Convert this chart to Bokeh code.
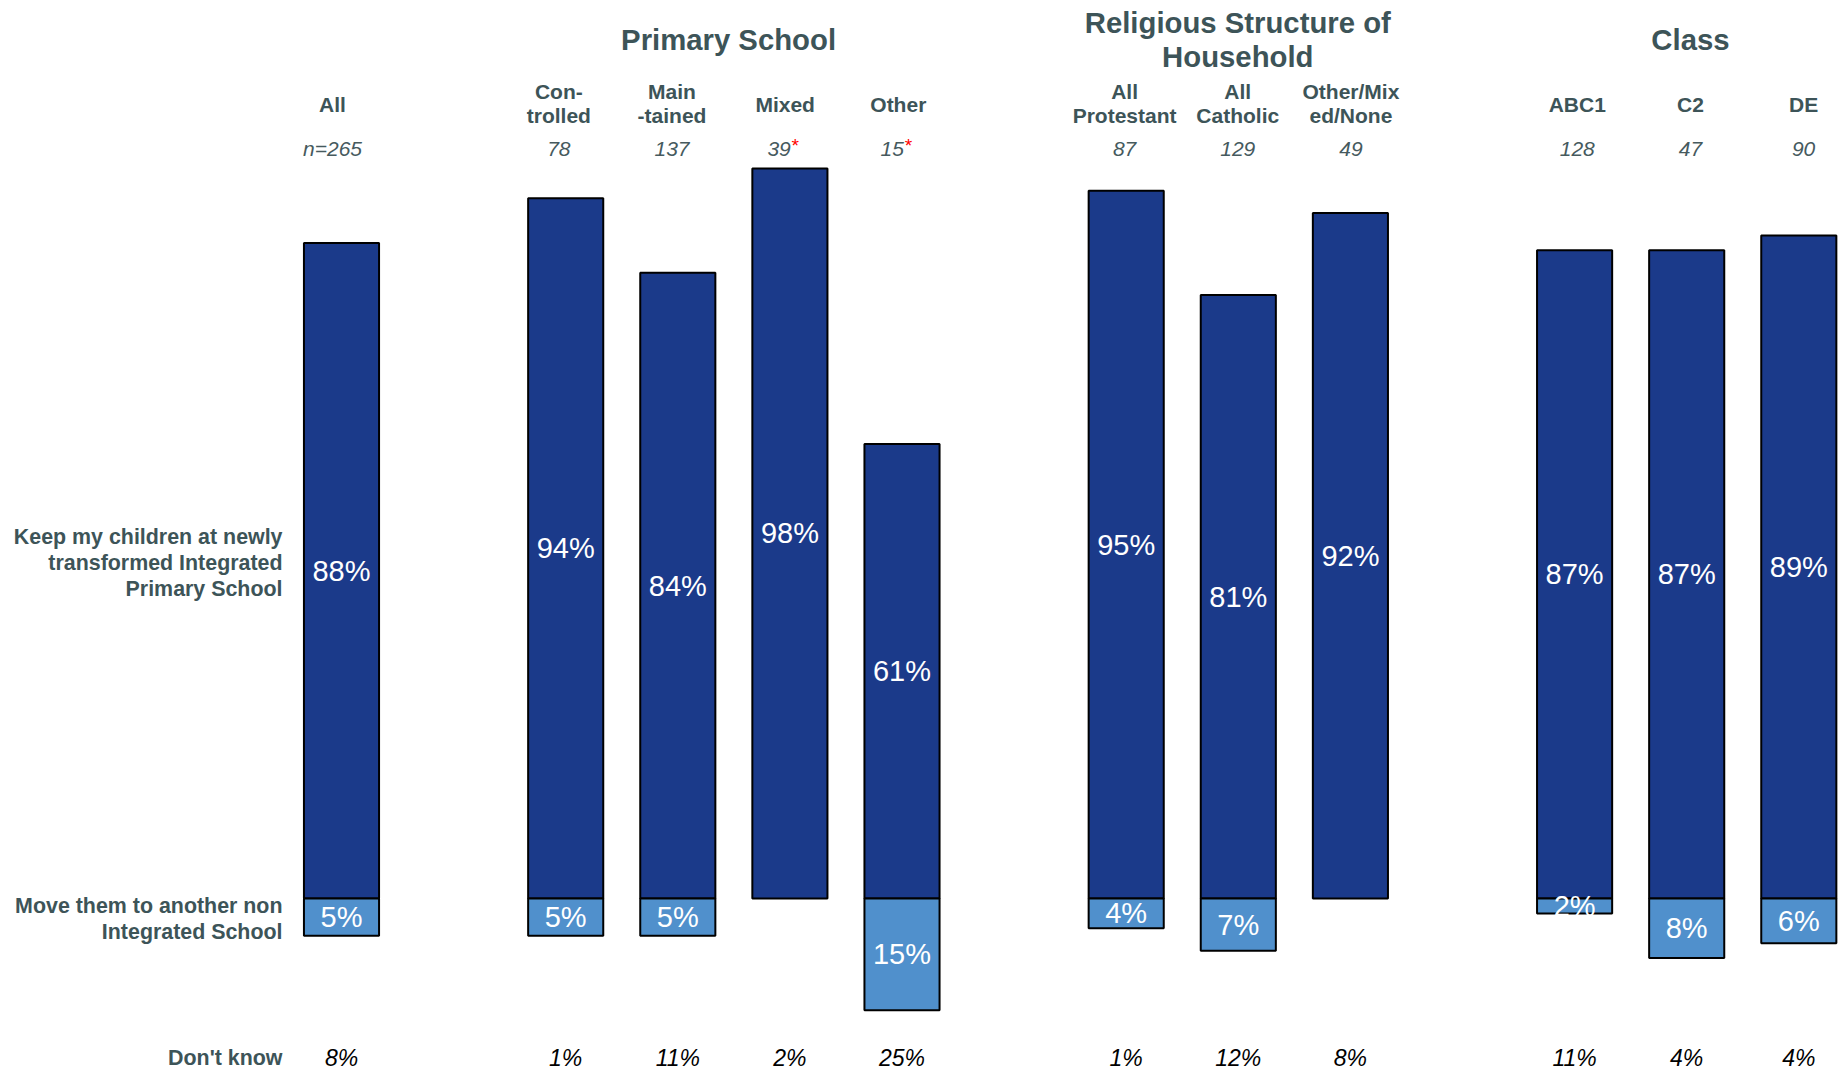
from bokeh.plotting import figure
from bokeh.models import Range1d
from bokeh.core.properties import value
from bokeh.embed import file_html
from bokeh.resources import INLINE

# ---------------- data ----------------
group_titles = ["", "Primary School", "Religious Structure of\nHousehold", "Class"]
group_members = [
    ["All"],
    ["Con-\ntrolled", "Main\n-tained", "Mixed", "Other"],
    ["All\nProtestant", "All\nCatholic", "Other/Mix\ned/None"],
    ["ABC1", "C2", "DE"],
]
base_sizes = ["n=265", "78", "137", "39", "15", "87", "129", "49", "128", "47", "90"]
small_base = [False, False, False, True, True, False, False, False, False, False, False]
keep = [88, 94, 84, 98, 61, 95, 81, 92, 87, 87, 89]
move = [5, 5, 5, 0, 15, 4, 7, 0, 2, 8, 6]
dont_know = [8, 1, 11, 2, 25, 1, 12, 8, 11, 4, 4]
row_keep = ["Keep my children at newly", "transformed Integrated", "Primary School"]
row_move = ["Move them to another non", "Integrated School"]
row_dk = "Don't know"

# ---------------- layout ----------------
W, H = 1845, 1074
PX_X = 112.1          # pixels per category slot
PX_Y = 7.45           # pixels per percentage point
BASE_PX = 898         # baseline, px from top of figure
FIRST_PX = 341        # centre of first bar, px from left of figure

x0 = -FIRST_PX / PX_X
x1 = x0 + W / PX_X
y1 = BASE_PX / PX_Y
y0 = y1 - H / PX_Y

def ypx(px_from_top):
    return y1 - px_from_top / PX_Y

def xpx(px_from_left):
    return x0 + px_from_left / PX_X

def head_x(x):
    # header texts sit on a slightly wider grid than the bars
    return x + (-9.0 + 1.06 * x) / PX_X

# category positions: groups separated by one empty slot
xs, labels, group_centres = [], [], []
pos = 0
for members in group_members:
    start = pos
    for m in members:
        xs.append(pos)
        labels.append(m)
        pos += 1
    group_centres.append((start + pos - 1) / 2)
    pos += 1

DARK = "#1b3a8a"
LIGHT = "#5090cc"
HEAD = "#3d5458"
GREY = "#465a5e"
FONT = value("Liberation Sans")

p = figure(width=W, height=H, x_range=Range1d(x0, x1), y_range=Range1d(y0, y1),
           output_backend="svg", toolbar_location=None, min_border=0,
           x_axis_location=None, y_axis_location=None)
p.grid.visible = False
p.outline_line_color = None
p.background_fill_color = "white"

BW = 0.67
p.vbar(x=xs, top=keep, bottom=0, width=BW, fill_color=DARK, line_color="black", line_width=2)
mx = [x for x, m in zip(xs, move) if m > 0]
mv = [-m for m in move if m > 0]
p.vbar(x=mx, top=0, bottom=mv, width=BW, fill_color=LIGHT, line_color="black", line_width=2)

# value labels in bars
p.text(x=xs, y=[k / 2 for k in keep], text=[f"{k}%" for k in keep], text_color="white",
       text_font=FONT, text_font_size="29px", text_align="center", text_baseline="middle")
p.text(x=mx, y=[m / 2 for m in mv], text=[f"{-m}%" for m in mv], text_color="white",
       text_font=FONT, text_font_size="29px", text_align="center", text_baseline="middle")

# don't know values
p.text(x=xs, y=[ypx(1057)] * len(xs), text=[f"{d}%" for d in dont_know], text_color="black",
       text_font=FONT, text_font_style="italic", text_font_size="23px",
       text_align="center", text_baseline="middle")

# group titles
tx, ty, tt = [], [], []
for c, t in zip(group_centres, group_titles):
    if not t:
        continue
    lines = t.split("\n")
    if len(lines) == 1:
        tx.append(head_x(c)); ty.append(ypx(39)); tt.append(lines[0])
    else:
        for i, ln in enumerate(lines):
            tx.append(head_x(c)); ty.append(ypx(22 + 34 * i)); tt.append(ln)
p.text(x=tx, y=ty, text=tt, text_color=HEAD, text_font=FONT, text_font_style="bold",
       text_font_size="29.3px", text_align="center", text_baseline="middle")

# category labels
cx, cy, ct = [], [], []
for x, lab in zip(xs, labels):
    lines = lab.split("\n")
    if len(lines) == 1:
        cx.append(head_x(x)); cy.append(ypx(103.5)); ct.append(lines[0])
    else:
        for i, ln in enumerate(lines):
            cx.append(head_x(x)); cy.append(ypx(90.6 + 24.7 * i)); ct.append(ln)
p.text(x=cx, y=cy, text=ct, text_color=HEAD, text_font=FONT, text_font_style="bold",
       text_font_size="21px", text_align="center", text_baseline="middle")

# base sizes
nx, nt, sx_, st_ = [], [], [], []
for x, n, s in zip(xs, base_sizes, small_base):
    if s:
        sx_.append(head_x(x) + 0.05); st_.append(n)
    else:
        nx.append(head_x(x)); nt.append(n)
p.text(x=nx, y=[ypx(148)] * len(nx), text=nt, text_color=GREY, text_font=FONT,
       text_font_style="italic", text_font_size="21px", text_align="center", text_baseline="middle")
p.text(x=sx_, y=[ypx(148)] * len(sx_), text=st_, text_color=GREY, text_font=FONT,
       text_font_style="italic", text_font_size="21px", text_align="right", text_baseline="middle")
p.text(x=sx_, y=[ypx(145)] * len(sx_), text=["*"] * len(sx_), text_color="#ff0000", text_font=FONT,
       text_font_style="italic", text_font_size="19px", text_align="left", text_baseline="middle")

# row labels
LX = xpx(282)
p.text(x=[LX] * 3, y=[ypx(536.6 + 25.9 * i) for i in range(3)], text=row_keep, text_color=HEAD,
       text_font=FONT, text_font_style="bold", text_font_size="21.4px",
       text_align="right", text_baseline="middle")
p.text(x=[LX] * 2, y=[ypx(905 + 26 * i) for i in range(2)], text=row_move, text_color=HEAD,
       text_font=FONT, text_font_style="bold", text_font_size="21.4px",
       text_align="right", text_baseline="middle")
p.text(x=[LX], y=[ypx(1057)], text=[row_dk], text_color=HEAD,
       text_font=FONT, text_font_style="bold", text_font_size="21.4px",
       text_align="right", text_baseline="middle")

open("out.html", "w").write(file_html(p, INLINE))
